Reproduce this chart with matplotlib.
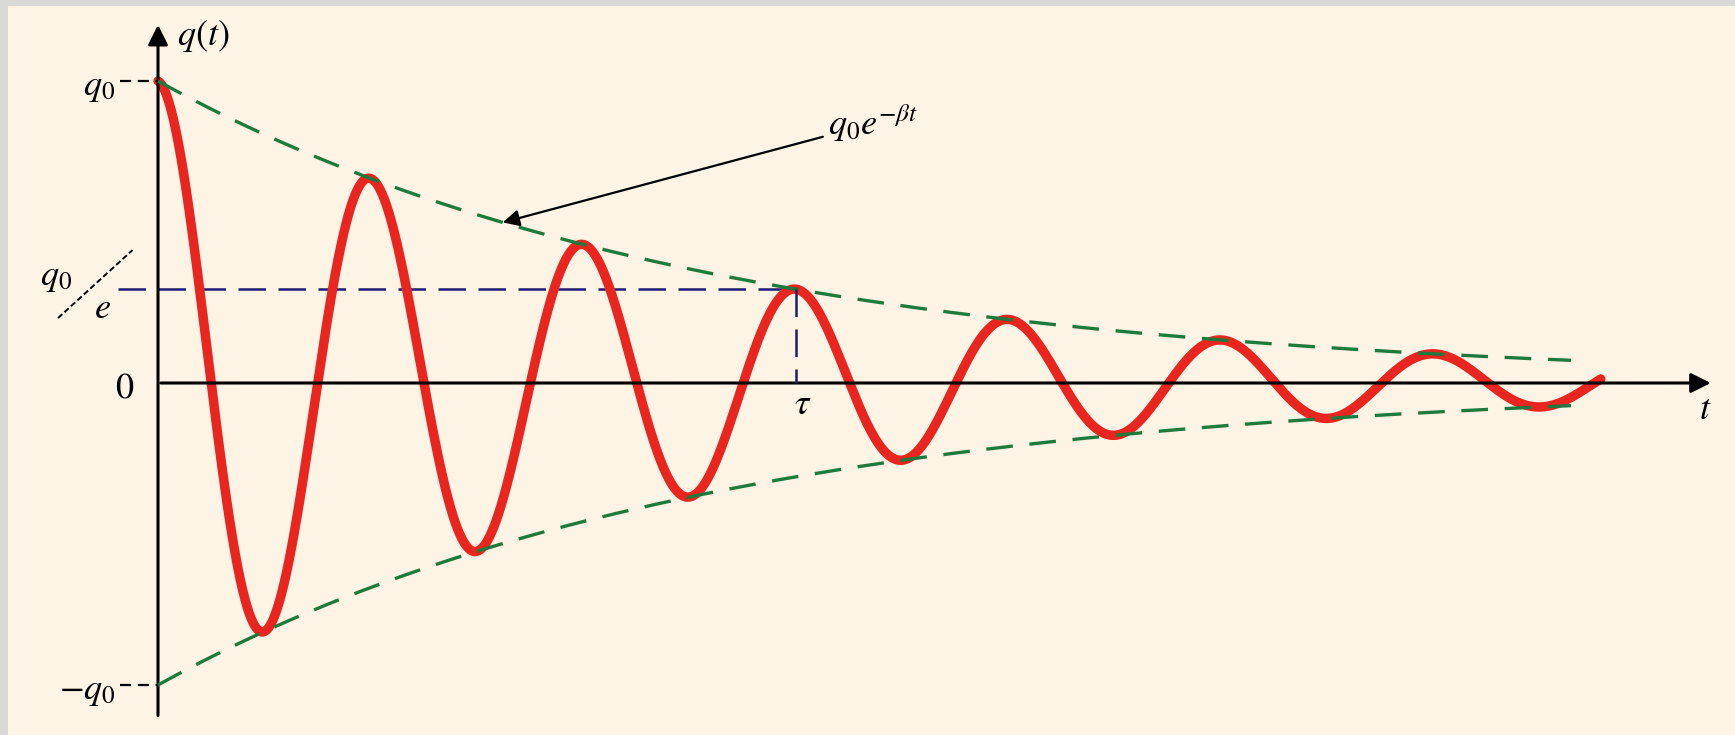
import numpy as np
import matplotlib
matplotlib.use("Agg")
from matplotlib import pyplot as plt

# values (t in oscillation periods, q in units of q0)
Q0 = 1.0
PERIOD = 1.0
DECAY = 0.39          # envelope decay per period
TAU = 3.0             # tau sits on the third maximum
T_CURVE_END = 6.78
T_ENV_END = 6.64
Y_LABELS = ["$q_0$", "$0$", "$-q_0$"]
Y_LEVELS = [Q0, 0.0, -Q0]

CREAM = "#fdf4e5"
RED = "#e8251e"
GREEN = "#1e7a3c"
NAVY = "#1c1c78"

plt.rcParams["mathtext.fontset"] = "stix"
plt.rcParams["font.family"] = ["STIXGeneral", "DejaVu Serif"]

fig = plt.figure(figsize=(17.35, 7.35), dpi=100, facecolor="#d9d9d7")
ax = fig.add_axes([8 / 1735, 0, 1 - 8 / 1735, 1 - 6 / 735])
ax.set_facecolor(CREAM)
ax.set_xlim(-(158 - 8) / 212.8, (1735 - 158) / 212.8)
ax.set_ylim(-(735 - 383) / 302, (383 - 6) / 302)
for s in ax.spines.values():
    s.set_visible(False)
ax.set_xticks([])
ax.set_yticks([])

t = np.linspace(0, T_CURVE_END, 2000)
te = np.linspace(0, T_ENV_END, 500)
env = Q0 * np.exp(-DECAY * te)
q = Q0 * np.exp(-DECAY * t) * np.cos(2 * np.pi * t / PERIOD)
q_tau = Q0 * np.exp(-DECAY * TAU)

# axes with arrows
ax.annotate("", xy=(0, 1.195), xytext=(0, -1.11),
            arrowprops=dict(arrowstyle="-|>", color="black", lw=2.2, mutation_scale=30))
ax.annotate("", xy=(7.31, 0), xytext=(0, 0),
            arrowprops=dict(arrowstyle="-|>", color="black", lw=2.2, mutation_scale=30))

# envelope and curve
ax.plot(te, env, color=GREEN, lw=2.4, dashes=(8, 5), zorder=3)
ax.plot(te, -env, color=GREEN, lw=2.4, dashes=(8, 5), zorder=3)
ax.plot(t, q, color=RED, lw=6.8, solid_capstyle="round", zorder=2)

# q0/e and tau guides
ax.plot([-0.19, TAU], [q_tau, q_tau], color=NAVY, lw=1.8, dashes=(11, 5), zorder=1)
ax.plot([TAU, TAU], [q_tau, 0], color=NAVY, lw=1.8, dashes=(11, 5), zorder=4)

# +-q0 dashed ticks
for lev in [Q0, -Q0]:
    ax.plot([-0.18, 0], [lev, lev], color="black", lw=1.6, dashes=(5, 3))

fs = 26
for lab, lev in zip(Y_LABELS, Y_LEVELS):
    xr = -0.11 if lev == 0 else -0.2
    ax.text(xr, lev - 0.02, lab, fontsize=fs, ha="right", va="center")

ax.text(0.09, 1.15, "$q(t)$", fontsize=fs, ha="left", va="center")
ax.text(7.27, -0.09, "$t$", fontsize=fs, ha="center", va="center")
ax.text(TAU + 0.03, -0.075, r"$\tau$", fontsize=fs, ha="center", va="center")

# q0/e slashed label
ax.text(-0.48, 0.35, "$q_0$", fontsize=fs, ha="center", va="center")
ax.plot([-0.47, -0.12], [0.215, 0.44], color="black", lw=1.4, dashes=(3, 1.5))
ax.text(-0.26, 0.245, "$e$", fontsize=fs, ha="center", va="center")

# envelope annotation
t_tip = 1.62
ax.annotate(r"$q_0e^{-\beta t}$", xy=(t_tip, Q0 * np.exp(-DECAY * t_tip)),
            xytext=(3.15, 0.86), fontsize=fs, ha="left", va="center",
            arrowprops=dict(arrowstyle="-|>", color="black", lw=1.6,
                            mutation_scale=25, shrinkA=2, shrinkB=0))

fig.savefig("out.png", dpi=100, facecolor=fig.get_facecolor())
